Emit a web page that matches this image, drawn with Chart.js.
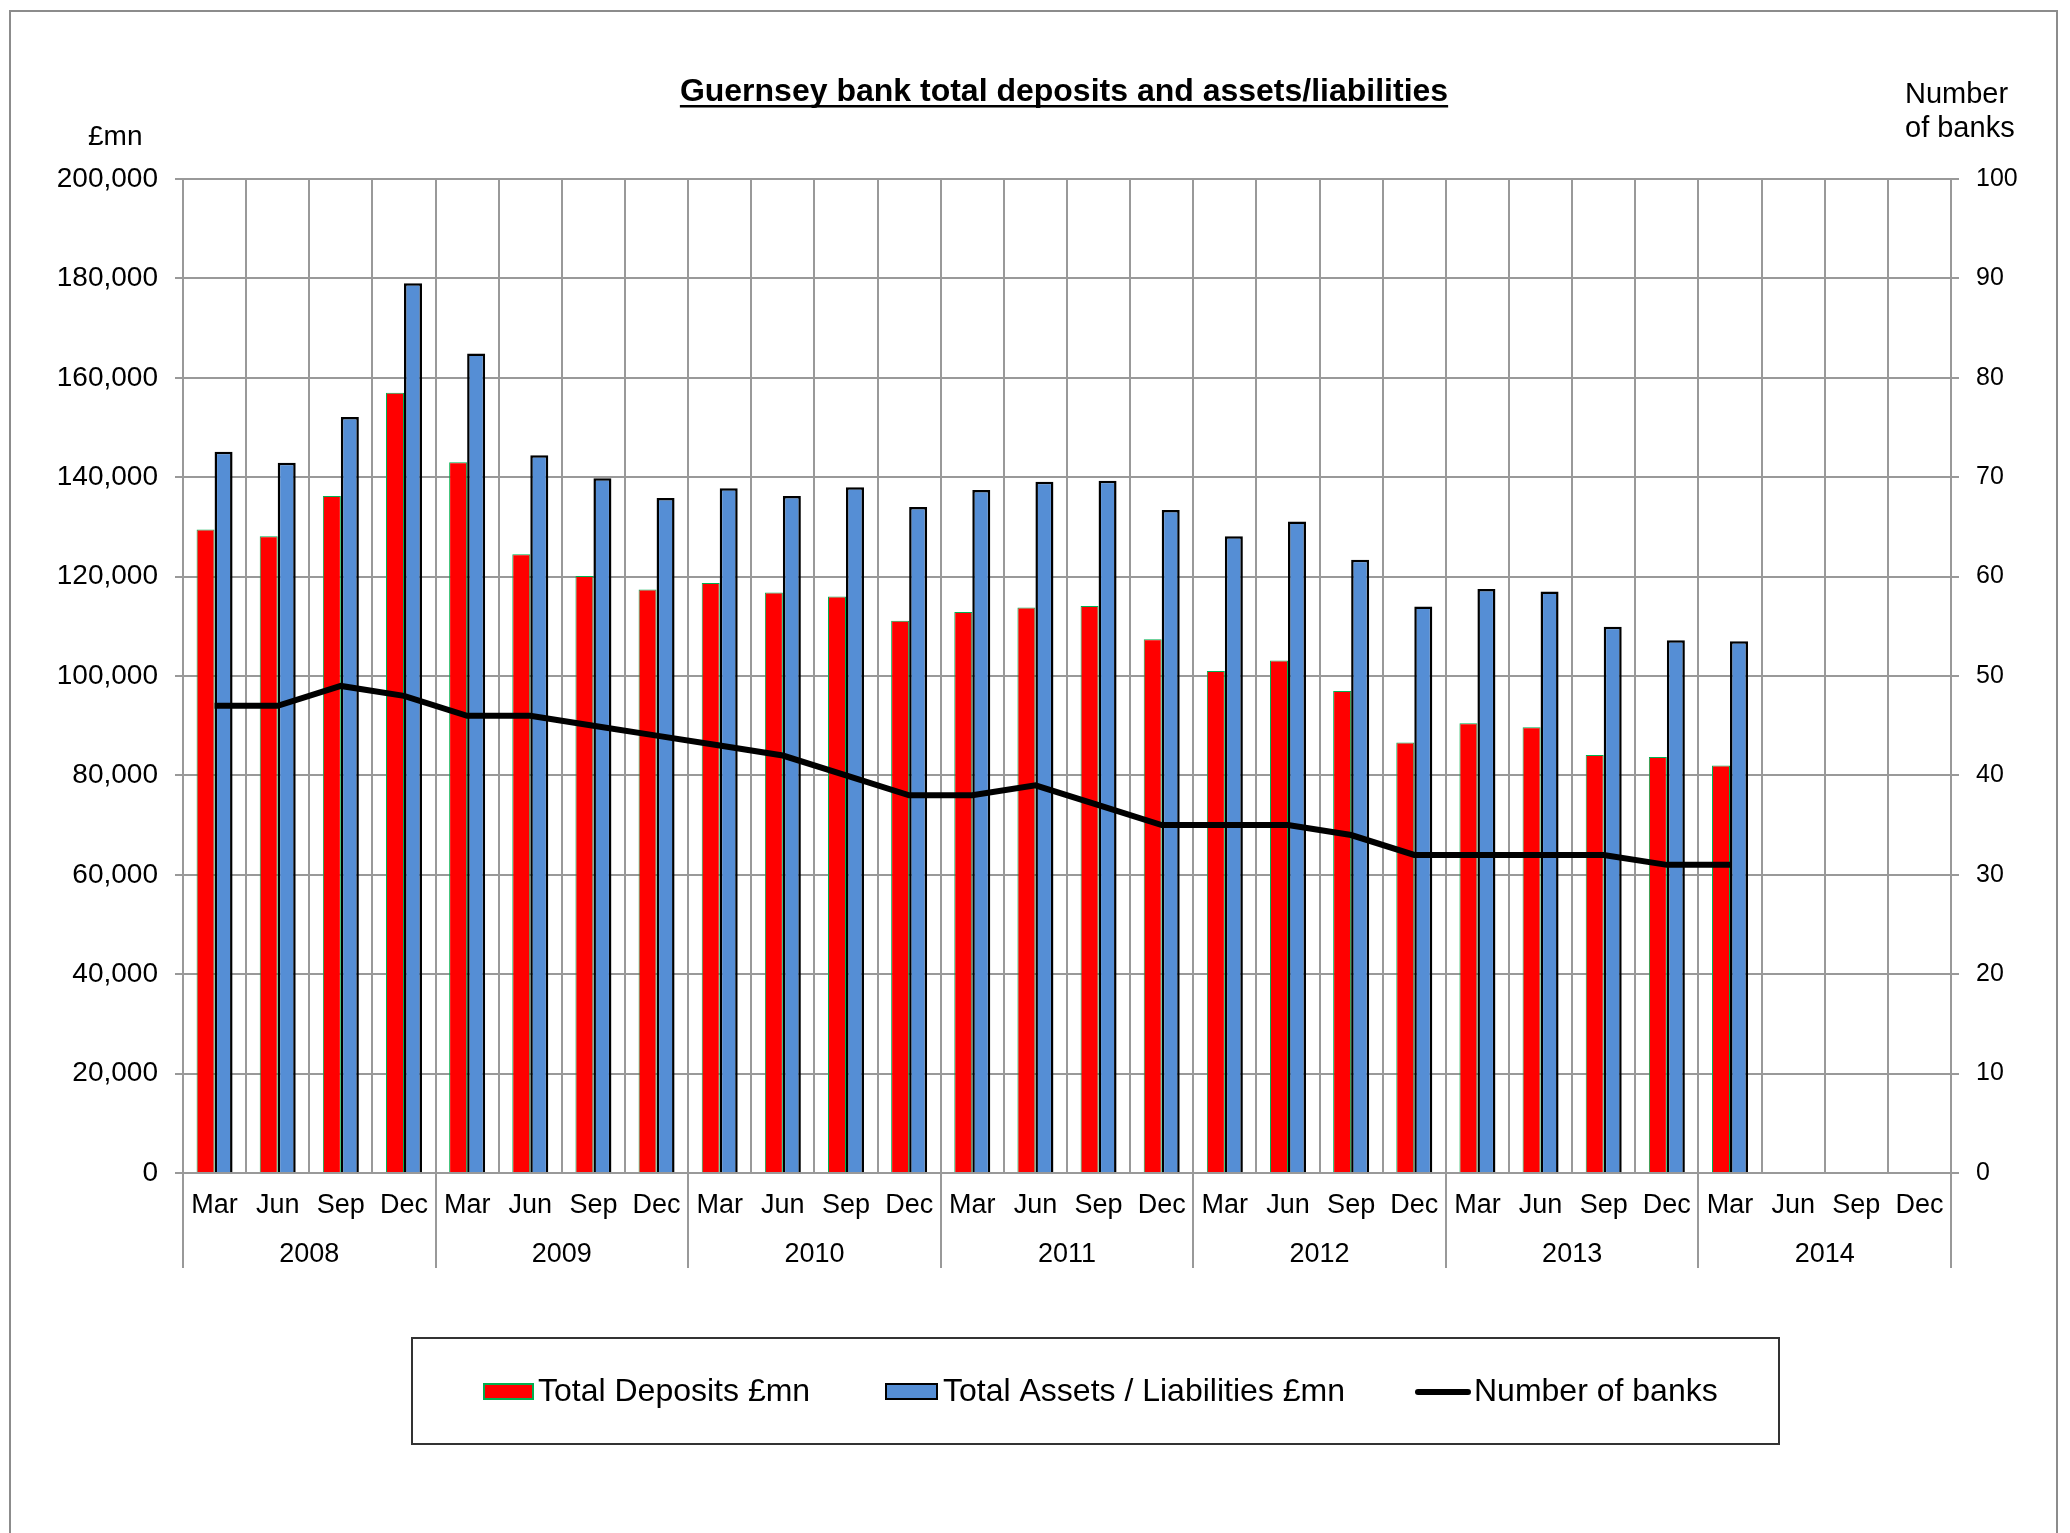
<!DOCTYPE html>
<html>
<head>
<meta charset="utf-8">
<title>Guernsey bank total deposits and assets/liabilities</title>
<script src="https://cdn.jsdelivr.net/npm/chart.js@4"></script>
<style>
body { margin: 0; background: #fff; }
#wrap { position: relative; width: 2070px; height: 1533px; overflow: hidden; }
canvas { position: absolute; left: 0; top: 0; }
</style>
</head>
<body>
<div id="wrap"><canvas id="chart" width="2070" height="1533"></canvas></div>
<script>
// data
const years = ["2008", "2009", "2010", "2011", "2012", "2013", "2014"];
const months = ["Mar", "Jun", "Sep", "Dec"];
const deposits = [129500, 128100, 136200, 157000, 143000, 124500, 120100, 117400,
                  118700, 116800, 116000, 111100, 112900, 113800, 114100, 107400,
                  101000, 103100, 97000, 86600, 90500, 89700, 84100, 83700,
                  82000, null, null, null];
const assets = [145100, 142900, 152100, 179000, 164900, 144400, 139800, 135800,
                137800, 136200, 138000, 134000, 137400, 139100, 139300, 133400,
                128100, 131100, 123400, 114000, 117500, 117000, 109900, 107200,
                107000, null, null, null];
const banks = [47, 47, 49, 48, 46, 46, 45, 44, 43, 42, 40, 38, 38, 39, 37, 35,
               35, 35, 34, 32, 32, 32, 32, 31, 31, null, null, null];

const labels = [];
years.forEach(function() { months.forEach(function(m) { labels.push(m); }); });

const FONT = '"Liberation Sans", Arial, sans-serif';
const GRID = "#999999";

// title, unit labels, year row and legend
const extras = {
    id: "extras",
    afterDraw(chart) {
        let ctx = chart.ctx;
        let x = chart.scales.x;
        let area = chart.chartArea;
        ctx.save();

        // outer frame
        ctx.strokeStyle = "#8c8c8c";
        ctx.lineWidth = 2;
        ctx.strokeRect(10, 11, 2047, 1600);

        // year separators below the axis
        ctx.strokeStyle = GRID;
        ctx.lineWidth = 2;
        for (let i = 0; i <= years.length; i++) {
            let px = Math.round(x.getPixelForValue(i * 4 - 0.5));
            ctx.beginPath();
            ctx.moveTo(px, area.bottom);
            ctx.lineTo(px, 1268);
            ctx.stroke();
        }

        ctx.fillStyle = "#000";
        ctx.textBaseline = "alphabetic";

        // year labels
        ctx.font = "27px " + FONT;
        ctx.textAlign = "center";
        years.forEach(function(y, i) {
            ctx.fillText(y, x.getPixelForValue(i * 4 + 1.5), 1262);
        });

        // title with underline
        let title = "Guernsey bank total deposits and assets/liabilities";
        ctx.font = "bold 32px " + FONT;
        ctx.textAlign = "left";
        let tw = ctx.measureText(title).width;
        let tx = 1064 - tw / 2;
        ctx.fillText(title, tx, 101);
        ctx.fillRect(tx, 105, tw, 2.5);

        // axis unit labels
        ctx.font = "28px " + FONT;
        ctx.fillText("£mn", 88, 145);
        ctx.font = "29px " + FONT;
        ctx.fillText("Number", 1905, 103);
        ctx.fillText("of banks", 1905, 137);

        // legend box
        ctx.strokeStyle = "#333";
        ctx.lineWidth = 2;
        ctx.strokeRect(412, 1338, 1367, 106);

        ctx.fillStyle = "#FF0000";
        ctx.fillRect(483, 1383, 51, 17);
        ctx.strokeStyle = "#00B050";
        ctx.lineWidth = 2;
        ctx.strokeRect(484, 1384, 49, 15);

        ctx.fillStyle = "#558ED5";
        ctx.fillRect(885, 1383, 53, 17);
        ctx.strokeStyle = "#000";
        ctx.strokeRect(886, 1384, 51, 15);

        ctx.strokeStyle = "#000";
        ctx.lineWidth = 6;
        ctx.lineCap = "round";
        ctx.beginPath();
        ctx.moveTo(1418, 1392);
        ctx.lineTo(1468, 1392);
        ctx.stroke();

        ctx.fillStyle = "#000";
        ctx.font = "32px " + FONT;
        ctx.fillText("Total Deposits £mn", 538, 1401);
        ctx.fillText("Total Assets / Liabilities £mn", 943, 1401);
        ctx.fillText("Number of banks", 1474, 1401);

        ctx.restore();
    }
};

new Chart(document.getElementById("chart"), {
    data: {
        labels: labels,
        datasets: [
            {
                type: "bar",
                label: "Total Deposits £mn",
                data: deposits,
                yAxisID: "y",
                backgroundColor: "#FF0000",
                borderColor: "#00B050",
                borderWidth: 1,
                borderSkipped: "bottom",
                categoryPercentage: 0.57,
                barPercentage: 1.0,
                order: 1
            },
            {
                type: "bar",
                label: "Total Assets / Liabilities £mn",
                data: assets,
                yAxisID: "y",
                backgroundColor: "#558ED5",
                borderColor: "#000",
                borderWidth: 2.5,
                borderSkipped: "bottom",
                categoryPercentage: 0.57,
                barPercentage: 1.0,
                order: 1
            },
            {
                type: "line",
                label: "Number of banks",
                data: banks,
                yAxisID: "y1",
                borderColor: "#000",
                borderWidth: 6,
                pointRadius: 0,
                tension: 0,
                fill: false,
                order: 0
            }
        ]
    },
    options: {
        responsive: false,
        animation: false,
        layout: { padding: { top: 179, left: 0, right: 0, bottom: 0 } },
        plugins: {
            legend: { display: false },
            tooltip: { enabled: false }
        },
        scales: {
            x: {
                type: "category",
                offset: true,
                grid: { offset: true, color: GRID, lineWidth: 2, drawTicks: false },
                border: { color: GRID, width: 2 },
                ticks: {
                    color: "#000",
                    font: { family: FONT, size: 27 },
                    padding: 16,
                    maxRotation: 0,
                    autoSkip: false
                },
                afterFit: function(s) { s.height = 360; }
            },
            y: {
                position: "left",
                min: 0,
                max: 200000,
                grid: { color: GRID, lineWidth: 2, tickLength: 8 },
                border: { color: GRID, width: 2 },
                ticks: {
                    stepSize: 20000,
                    color: "#000",
                    font: { family: FONT, size: 28 },
                    padding: 17,
                    callback: function(v) { return v.toLocaleString("en-US"); }
                },
                afterFit: function(s) { s.width = 183; }
            },
            y1: {
                position: "right",
                min: 0,
                max: 100,
                grid: { drawOnChartArea: false, color: GRID, lineWidth: 2, tickLength: 8 },
                border: { color: GRID, width: 2 },
                ticks: {
                    stepSize: 10,
                    color: "#000",
                    font: { family: FONT, size: 25 },
                    padding: 17
                },
                afterFit: function(s) { s.width = 119; }
            }
        }
    },
    plugins: [extras]
});
</script>
</body>
</html>
